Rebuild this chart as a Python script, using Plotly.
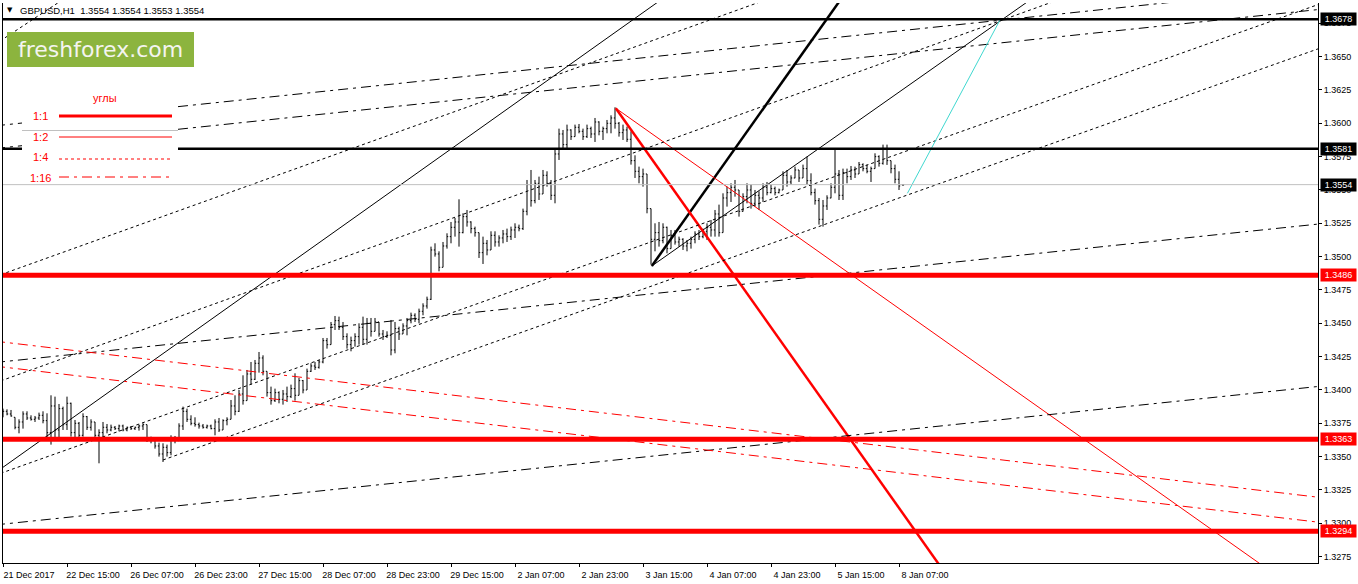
import plotly.graph_objects as go

# GBPUSD H1 bars (bar index 0 = 21 Dec 2017 23:00)
opn = [1.3382, 1.3384, 1.3382, 1.33795, 1.3372, 1.3376, 1.3382, 1.3379, 1.3378, 1.3379,
       1.3381, 1.3377, 1.3368, 1.3388, 1.3370, 1.3386, 1.3374, 1.3390, 1.3368, 1.3375,
       1.3366, 1.3380, 1.3372, 1.3376, 1.3366, 1.3368, 1.3372, 1.3370, 1.3372, 1.3371,
       1.3373, 1.3370, 1.3372, 1.3371, 1.3372, 1.3373, 1.3374, 1.3363, 1.3362, 1.3358,
       1.3352, 1.3357, 1.3353, 1.3364, 1.3362, 1.3373, 1.3384, 1.3378, 1.3375, 1.3374,
       1.3373, 1.3372, 1.3373, 1.3371, 1.3376, 1.3370, 1.3377, 1.3378, 1.3388, 1.3384,
       1.3397, 1.3392, 1.3412, 1.3408, 1.3420, 1.3424, 1.3414, 1.3398, 1.3392, 1.3398,
       1.3393, 1.3397, 1.3395, 1.3401, 1.3396, 1.3407, 1.3400, 1.3414, 1.3418, 1.3417,
       1.3421, 1.3437, 1.3434, 1.3449, 1.3452, 1.3447, 1.3440, 1.3434, 1.3437, 1.3440,
       1.3447, 1.3438, 1.3450, 1.3444, 1.3451, 1.3442, 1.3440, 1.3441, 1.3430, 1.3446,
       1.3442, 1.3448, 1.3452, 1.3456, 1.3453, 1.3459, 1.3463, 1.3468, 1.3505, 1.3502,
       1.3492, 1.3508, 1.3515, 1.3522, 1.3526, 1.3518, 1.3530, 1.3526, 1.3521, 1.3518,
       1.3503, 1.3510, 1.3505, 1.3516, 1.3511, 1.3514, 1.3517, 1.3515, 1.3520, 1.3522,
       1.3521, 1.3534, 1.3554, 1.3542, 1.3555, 1.3547, 1.3561, 1.3555, 1.3546, 1.3577,
       1.3592, 1.3584, 1.3595, 1.3590, 1.3597, 1.3594, 1.3590, 1.3596, 1.3592, 1.3601,
       1.3594, 1.3596, 1.3600, 1.3604, 1.3600, 1.3593, 1.3595, 1.3588, 1.3572, 1.3564,
       1.3560, 1.3562, 1.3536, 1.3513, 1.3518, 1.3512, 1.3522, 1.3506, 1.3516, 1.3511,
       1.3513, 1.3508, 1.3510, 1.3513, 1.3517, 1.3515, 1.3519, 1.3522, 1.3520, 1.3532,
       1.3518, 1.3544, 1.3548, 1.3552, 1.3550, 1.3534, 1.3545, 1.3550, 1.3540, 1.3546,
       1.3544, 1.3552, 1.3548, 1.3551, 1.3548, 1.3550, 1.3561, 1.3556, 1.3559, 1.3565,
       1.3559, 1.3566, 1.3557, 1.3548, 1.3542, 1.3528, 1.3538, 1.3544, 1.3552, 1.3562,
       1.3546, 1.3563, 1.3560, 1.3565, 1.3562, 1.3569, 1.3566, 1.3564, 1.3566, 1.3575,
       1.3570, 1.3581, 1.3572, 1.3566, 1.3558, 1.3554]
high = [1.3386, 1.33855, 1.3385, 1.33795, 1.3378, 1.3384, 1.3384, 1.3381, 1.33805, 1.3383,
        1.3384, 1.33825, 1.3396, 1.3395, 1.33895, 1.33875, 1.3395, 1.33905, 1.33775, 1.3376,
        1.33825, 1.33805, 1.3378, 1.3376, 1.33705, 1.3376, 1.33745, 1.3374, 1.3373, 1.3374,
        1.3374, 1.33725, 1.3373, 1.33725, 1.3374, 1.3375, 1.3374, 1.3365, 1.3364, 1.33605,
        1.3360, 1.3359, 1.3366, 1.33655, 1.3375, 1.33875, 1.3386, 1.3381, 1.33795, 1.33755,
        1.33745, 1.3374, 1.3374, 1.3378, 1.3379, 1.3378, 1.33795, 1.33925, 1.3396, 1.3400,
        1.3411, 1.3415, 1.3421, 1.34225, 1.34285, 1.3426, 1.3414, 1.34025, 1.3401, 1.3399,
        1.3400, 1.34025, 1.3404, 1.34125, 1.3409, 1.34075, 1.3416, 1.3420, 1.3421, 1.34225,
        1.3439, 1.3439, 1.3451, 1.34555, 1.3455, 1.3451, 1.34425, 1.3440, 1.34425, 1.3450,
        1.3455, 1.3454, 1.3454, 1.3454, 1.3451, 1.3445, 1.3444, 1.34525, 1.3451, 1.34475,
        1.3450, 1.3454, 1.3458, 1.34575, 1.3461, 1.3465, 1.3470, 1.35075, 1.3510, 1.3504,
        1.3511, 1.35175, 1.3526, 1.3529, 1.3543, 1.35325, 1.3535, 1.35265, 1.35225, 1.3518,
        1.3515, 1.35125, 1.3519, 1.3519, 1.3516, 1.3520, 1.3521, 1.35225, 1.3525, 1.3524,
        1.3536, 1.35575, 1.3565, 1.35575, 1.3560, 1.3565, 1.3564, 1.35575, 1.3580, 1.3596,
        1.3595, 1.3599, 1.35955, 1.3599, 1.35995, 1.3596, 1.3599, 1.35975, 1.3604, 1.36015,
        1.35975, 1.36025, 1.3606, 1.3612, 1.3601, 1.3599, 1.35975, 1.3594, 1.3576, 1.35675,
        1.3566, 1.3562, 1.3536, 1.3525, 1.3526, 1.3525, 1.35225, 1.3520, 1.3520, 1.3515,
        1.35138, 1.35125, 1.3515, 1.3519, 1.3520, 1.3521, 1.3525, 1.35275, 1.3535, 1.3539,
        1.35475, 1.35525, 1.3555, 1.35575, 1.3550, 1.35475, 1.3555, 1.3554, 1.3550, 1.3549,
        1.3555, 1.3556, 1.3554, 1.35525, 1.3551, 1.3564, 1.3565, 1.3561, 1.35675, 1.3565,
        1.3569, 1.3575, 1.35625, 1.3551, 1.3544, 1.35425, 1.3546, 1.3555, 1.3581, 1.3565,
        1.3566, 1.3566, 1.3568, 1.35675, 1.3571, 1.3570, 1.3569, 1.35675, 1.35775, 1.3576,
        1.3584, 1.3584, 1.3572, 1.3569, 1.3564, 1.3554]
low = [1.33795, 1.3381, 1.3380, 1.33705, 1.33675, 1.3371, 1.33775, 1.3377, 1.3376, 1.33775,
       1.3375, 1.33625, 1.3359, 1.33625, 1.3363, 1.3370, 1.3370, 1.3365, 1.33625, 1.3362,
       1.3365, 1.3370, 1.33695, 1.3363, 1.3345, 1.3364, 1.33675, 1.3369, 1.3370, 1.3369,
       1.3369, 1.3369, 1.3370, 1.3370, 1.33695, 1.3370, 1.3361, 1.3360, 1.3356, 1.3350,
       1.3346, 1.3350, 1.3351, 1.3360, 1.3362, 1.3370, 1.3376, 1.33735, 1.33725, 1.3371,
       1.3371, 1.3371, 1.33705, 1.3366, 1.33685, 1.3370, 1.33735, 1.3378, 1.3381, 1.33835,
       1.3389, 1.3392, 1.3404, 1.34075, 1.3413, 1.3411, 1.3395, 1.3389, 1.3391, 1.3390,
       1.3389, 1.3391, 1.3394, 1.3392, 1.3396, 1.33975, 1.3400, 1.34135, 1.3415, 1.3416,
       1.3420, 1.3431, 1.3434, 1.3445, 1.3445, 1.34375, 1.3431, 1.3429, 1.34325, 1.3434,
       1.3434, 1.3434, 1.3440, 1.3444, 1.3440, 1.34375, 1.3439, 1.3426, 1.34275, 1.34375,
       1.3442, 1.3441, 1.3450, 1.3451, 1.3450, 1.3456, 1.3461, 1.34675, 1.3500, 1.3489,
       1.3492, 1.3506, 1.3510, 1.3515, 1.35075, 1.35175, 1.35225, 1.35175, 1.3515, 1.3499,
       1.34945, 1.3501, 1.3505, 1.35075, 1.35075, 1.3510, 1.3511, 1.35125, 1.3514, 1.3519,
       1.3520, 1.3531, 1.35375, 1.3540, 1.35425, 1.3547, 1.35525, 1.35425, 1.3540, 1.35725,
       1.3580, 1.3580, 1.35875, 1.3590, 1.35925, 1.35875, 1.3589, 1.3589, 1.3586, 1.3591,
       1.35875, 1.35925, 1.35925, 1.3596, 1.3590, 1.35875, 1.3586, 1.3569, 1.3559, 1.3555,
       1.35525, 1.35325, 1.3494, 1.3504, 1.35075, 1.3510, 1.35025, 1.3506, 1.3509, 1.35075,
       1.3505, 1.3504, 1.3506, 1.3510, 1.35125, 1.35138, 1.35125, 1.3515, 1.3515, 1.3515,
       1.3518, 1.35375, 1.3541, 1.3545, 1.3530, 1.35338, 1.3540, 1.3536, 1.35375, 1.3535,
       1.3541, 1.3546, 1.35475, 1.3546, 1.35475, 1.3550, 1.35525, 1.3554, 1.35588, 1.3556,
       1.3559, 1.3554, 1.3546, 1.3539, 1.3524, 1.35225, 1.3535, 1.35438, 1.35475, 1.35425,
       1.35425, 1.3555, 1.35575, 1.3559, 1.3562, 1.3564, 1.35625, 1.3556, 1.3566, 1.35675,
       1.3569, 1.35688, 1.35625, 1.3555, 1.3550, 1.3553]
close = [1.3384, 1.3382, 1.33805, 1.3372, 1.3376, 1.3382, 1.3379, 1.3378, 1.3379, 1.3381,
         1.3377, 1.3368, 1.3388, 1.3370, 1.3386, 1.3374, 1.3390, 1.3368, 1.3375, 1.3366,
         1.3380, 1.3372, 1.3376, 1.3366, 1.3368, 1.3372, 1.3370, 1.3372, 1.3371, 1.3373,
         1.3370, 1.3372, 1.3371, 1.3372, 1.3373, 1.3374, 1.3363, 1.3362, 1.3358, 1.3352,
         1.3357, 1.3353, 1.3364, 1.3362, 1.3373, 1.3384, 1.3378, 1.3375, 1.3374, 1.3373,
         1.3372, 1.3373, 1.3371, 1.3376, 1.3370, 1.3377, 1.3378, 1.3388, 1.3384, 1.3397,
         1.3392, 1.3412, 1.3408, 1.3420, 1.3424, 1.3414, 1.3398, 1.3392, 1.3398, 1.3393,
         1.3397, 1.3395, 1.3401, 1.3396, 1.3407, 1.3400, 1.3414, 1.3418, 1.3417, 1.3421,
         1.3437, 1.3434, 1.3449, 1.3452, 1.3447, 1.3440, 1.3434, 1.3437, 1.3440, 1.3447,
         1.3438, 1.3450, 1.3444, 1.3451, 1.3442, 1.3440, 1.3441, 1.3430, 1.3446, 1.3442,
         1.3448, 1.3452, 1.3456, 1.3453, 1.3459, 1.3463, 1.3468, 1.3505, 1.3502, 1.3492,
         1.3508, 1.3515, 1.3522, 1.3526, 1.3518, 1.3530, 1.3526, 1.3521, 1.3518, 1.3503,
         1.3510, 1.3505, 1.3516, 1.3511, 1.3514, 1.3517, 1.3515, 1.3520, 1.3522, 1.3521,
         1.3534, 1.3554, 1.3542, 1.3555, 1.3547, 1.3561, 1.3555, 1.3546, 1.3577, 1.3592,
         1.3584, 1.3595, 1.3590, 1.3597, 1.3594, 1.3590, 1.3596, 1.3592, 1.3601, 1.3594,
         1.3596, 1.3600, 1.3604, 1.3600, 1.3593, 1.3595, 1.3588, 1.3572, 1.3564, 1.3560,
         1.3562, 1.3536, 1.3513, 1.3518, 1.3512, 1.3522, 1.3506, 1.3516, 1.3511, 1.3513,
         1.3508, 1.3510, 1.3513, 1.3517, 1.3515, 1.3519, 1.3522, 1.3520, 1.3532, 1.3518,
         1.3544, 1.3548, 1.3552, 1.3550, 1.3534, 1.3545, 1.3550, 1.3540, 1.3546, 1.3544,
         1.3552, 1.3548, 1.3551, 1.3548, 1.3550, 1.3561, 1.3556, 1.3559, 1.3565, 1.3559,
         1.3566, 1.3557, 1.3548, 1.3542, 1.3528, 1.3538, 1.3544, 1.3552, 1.3562, 1.3546,
         1.3563, 1.3560, 1.3565, 1.3562, 1.3569, 1.3566, 1.3564, 1.3566, 1.3575, 1.3570,
         1.3581, 1.3572, 1.3566, 1.3558, 1.3553, 1.3554]

time_tick_bars = [0, 16, 32, 48, 64, 80, 96, 112, 128, 144, 160, 176, 192, 208, 224]
time_tick_text = ["21 Dec 2017", "22 Dec 15:00", "26 Dec 07:00", "26 Dec 23:00", "27 Dec 15:00",
                  "28 Dec 07:00", "28 Dec 23:00", "29 Dec 15:00", "2 Jan 07:00", "2 Jan 23:00",
                  "3 Jan 15:00", "4 Jan 07:00", "4 Jan 23:00", "5 Jan 15:00", "8 Jan 07:00"]
price_ticks = [1.3275, 1.3300, 1.3325, 1.3350, 1.3375, 1.3400, 1.3425, 1.3450, 1.3475, 1.3500,
               1.3525, 1.3550, 1.3575, 1.3600, 1.3625, 1.3650, 1.3675]

# horizontal levels
level_prices = [1.3678, 1.3581, 1.3486, 1.3363, 1.3294]
level_colors = ["black", "black", "red", "red", "red"]
bid_price = 1.3554

# angle rays: two points (bar, price) each, drawn from ray_from to the right
ray_bar0 = [-0.25, 162.2, 162.2, 153.2, 153.2, -0.08, -0.08, 0.075, 40, 56.75,
            0, 0, 43.75, 43.75, 0, 0]
ray_price0 = [1.33415, 1.3493, 1.3493, 1.36113, 1.36113, 1.3663, 1.3487, 1.34075, 1.33475, 1.33987,
              1.32994, 1.34212, 1.36125, 1.35955, 1.34359, 1.34172]
ray_bar1 = [129.25, 249.75, 208.75, 233.75, 314, 7.5, 111.75, 249.4, 329.2, 246,
            328.4, 328.4, 289, 328.75, 328.4, 328.4]
ray_price1 = [1.36175, 1.36777, 1.3690, 1.32702, 1.32702, 1.3678, 1.36075, 1.3677, 1.36563, 1.36007,
              1.34025, 1.35243, 1.36898, 1.36853, 1.33197, 1.33010]
ray_from = [-2, 162.2, 162.2, 153.2, 153.2, -2, -2, -2, 40, -2,
            -2, -2, -2, -2, -2, -2]
ray_kind = ["1:2", "1:2", "1:1", "1:1", "1:2", "1:4", "1:4", "1:4", "1:4", "1:4",
            "1:16", "1:16", "1:16", "1:16", "1:16", "1:16"]
ray_color = ["black", "black", "black", "red", "red", "black", "black", "black", "black", "black",
             "black", "black", "black", "black", "red", "red"]

cyan_bars = [226.1, 249.25]
cyan_prices = [1.35475, 1.36775]

styles = {
    "1:1": dict(width=2.5, dash="solid"),
    "1:2": dict(width=1, dash="solid"),
    "1:4": dict(width=1, dash="3px,3px"),
    "1:16": dict(width=1, dash="10px,5px,3px,5px"),
}

FONT = "Liberation Sans, Arial, sans-serif"
W, H = 1358, 584
L, R, T, B = 3, 40, 3, 21


def px(x, y):
    # pixel position of the window -> paper coordinates (for the overlay panels)
    return (x - L) / (W - L - R), (H - B - y) / (H - T - B)


fig = go.Figure()
bars = list(range(len(close)))
fig.add_trace(go.Ohlc(
    x=bars, open=opn, high=high, low=low, close=close,
    increasing=dict(line=dict(color="black", width=1)),
    decreasing=dict(line=dict(color="black", width=1)),
    tickwidth=0.3, hoverinfo="skip", showlegend=False))

end_bar = 340
for b0, p0, b1, p1, start, kind, col in zip(ray_bar0, ray_price0, ray_bar1, ray_price1,
                                             ray_from, ray_kind, ray_color):
    slope = (p1 - p0) / (b1 - b0)
    xs = [start, end_bar]
    ys = [p0 + slope * (x - b0) for x in xs]
    fig.add_trace(go.Scatter(x=xs, y=ys, mode="lines", hoverinfo="skip", showlegend=False,
                             line=dict(color=col, **styles[kind])))

fig.add_trace(go.Scatter(x=cyan_bars, y=cyan_prices, mode="lines", hoverinfo="skip",
                         showlegend=False, line=dict(color="#40d8d0", width=1)))

shapes = []
shapes.append(dict(type="line", xref="paper", yref="y", x0=0, x1=1, y0=bid_price, y1=bid_price,
                   line=dict(color="#c0c0c0", width=1), layer="above"))
for p, c in zip(level_prices, level_colors):
    shapes.append(dict(type="line", xref="paper", yref="y", x0=0, x1=1, y0=p, y1=p,
                       line=dict(color=c, width=2.5 if c == "black" else 5), layer="above"))

# logo
lx0, ly0 = px(7, 67)
lx1, ly1 = px(194, 32)
shapes.append(dict(type="rect", xref="paper", yref="paper", x0=lx0, x1=lx1, y0=ly0, y1=ly1,
                   fillcolor="#8cb43e", line=dict(width=0), layer="above"))

# "углы" legend panel
bx0, by0 = px(22, 184)
bx1, by1 = px(178, 75)
shapes.append(dict(type="rect", xref="paper", yref="paper", x0=bx0, x1=bx1, y0=by0, y1=by1,
                   fillcolor="white", line=dict(width=0), layer="above"))
gx0, gy = px(22, 130.5)
gx1, _ = px(178, 130.5)
shapes.append(dict(type="line", xref="paper", yref="paper", x0=gx0, x1=gx1, y0=gy, y1=gy,
                   line=dict(color="#c0c0c0", width=1), layer="above"))

legend_items = ["1:1", "1:2", "1:4", "1:16"]
legend_text_y = [116, 136.5, 157, 178]
legend_line_y = [116, 137, 159, 177]
annotations = []
for name, ty, ly in zip(legend_items, legend_text_y, legend_line_y):
    ax, ay = px(40, ty)
    annotations.append(dict(x=ax, y=ay, xref="paper", yref="paper", text=name, showarrow=False,
                            xanchor="center", yanchor="middle",
                            font=dict(family=FONT, size=11, color="red")))
    sx0, sy = px(59, ly)
    sx1, _ = px(172, ly)
    st = styles[name]
    shapes.append(dict(type="line", xref="paper", yref="paper", x0=sx0, x1=sx1, y0=sy, y1=sy,
                       line=dict(color="red", width=3 if name == "1:1" else 1, dash=st["dash"]),
                       layer="above"))

ux, uy = px(91, 90)
annotations.append(dict(x=ux, y=uy, xref="paper", yref="paper", text="углы", showarrow=False,
                        font=dict(family=FONT, size=11, color="red")))

fx, fy = px(100.5, 49)
annotations.append(dict(x=fx, y=fy, xref="paper", yref="paper", text="freshforex.com",
                        showarrow=False, xanchor="center", yanchor="middle",
                        font=dict(family="DejaVu Sans, Verdana, sans-serif", size=22,
                                  color="#f4f4f0")))

tx, ty = px(18, 10.5)
annotations.append(dict(x=tx, y=ty, xref="paper", yref="paper",
                        text="GBPUSD,H1  1.3554 1.3554 1.3553 1.3554", showarrow=False,
                        xanchor="left", yanchor="middle",
                        font=dict(family=FONT, size=9.5, color="black")))
vx, vy = px(10, 10.5)
annotations.append(dict(x=vx, y=vy, xref="paper", yref="paper", text="▼", showarrow=False,
                        xanchor="center", yanchor="middle",
                        font=dict(family="DejaVu Sans", size=7, color="black")))

# price labels on the right scale
for p, c in zip(level_prices + [bid_price], level_colors + ["black"]):
    annotations.append(dict(x=1, y=p, xref="paper", yref="y", text=f"{p:.4f}", showarrow=False,
                            xanchor="left", yanchor="middle", xshift=2, width=35, height=12,
                            borderpad=0, bgcolor=c, align="center",
                            font=dict(family=FONT, size=9, color="white")))

fig.update_layout(
    width=W, height=H,
    margin=dict(l=L, r=R, t=T, b=B),
    paper_bgcolor="white", plot_bgcolor="white",
    shapes=shapes, annotations=annotations,
    showlegend=False,
    xaxis=dict(range=[0, 328.75], rangeslider=dict(visible=False), showgrid=False,
               zeroline=False, showline=True, linecolor="black", linewidth=1,
               tickmode="array", tickvals=time_tick_bars, ticktext=time_tick_text,
               ticks="outside", ticklen=3, tickcolor="black", ticklabelshift=26,
               tickfont=dict(family=FONT, size=9, color="black")),
    yaxis=dict(range=[1.327023, 1.369023], side="right", showgrid=False, zeroline=False,
               showline=True, mirror=True, linecolor="black", linewidth=1,
               tickmode="array", tickvals=price_ticks, tickformat=".4f",
               ticks="outside", ticklen=3, tickcolor="black",
               tickfont=dict(family=FONT, size=9, color="black")),
)

fig.write_html("out.html", config={"displayModeBar": False},
               post_script="document.body.style.margin='0';"
                           "document.body.style.overflow='hidden';")
